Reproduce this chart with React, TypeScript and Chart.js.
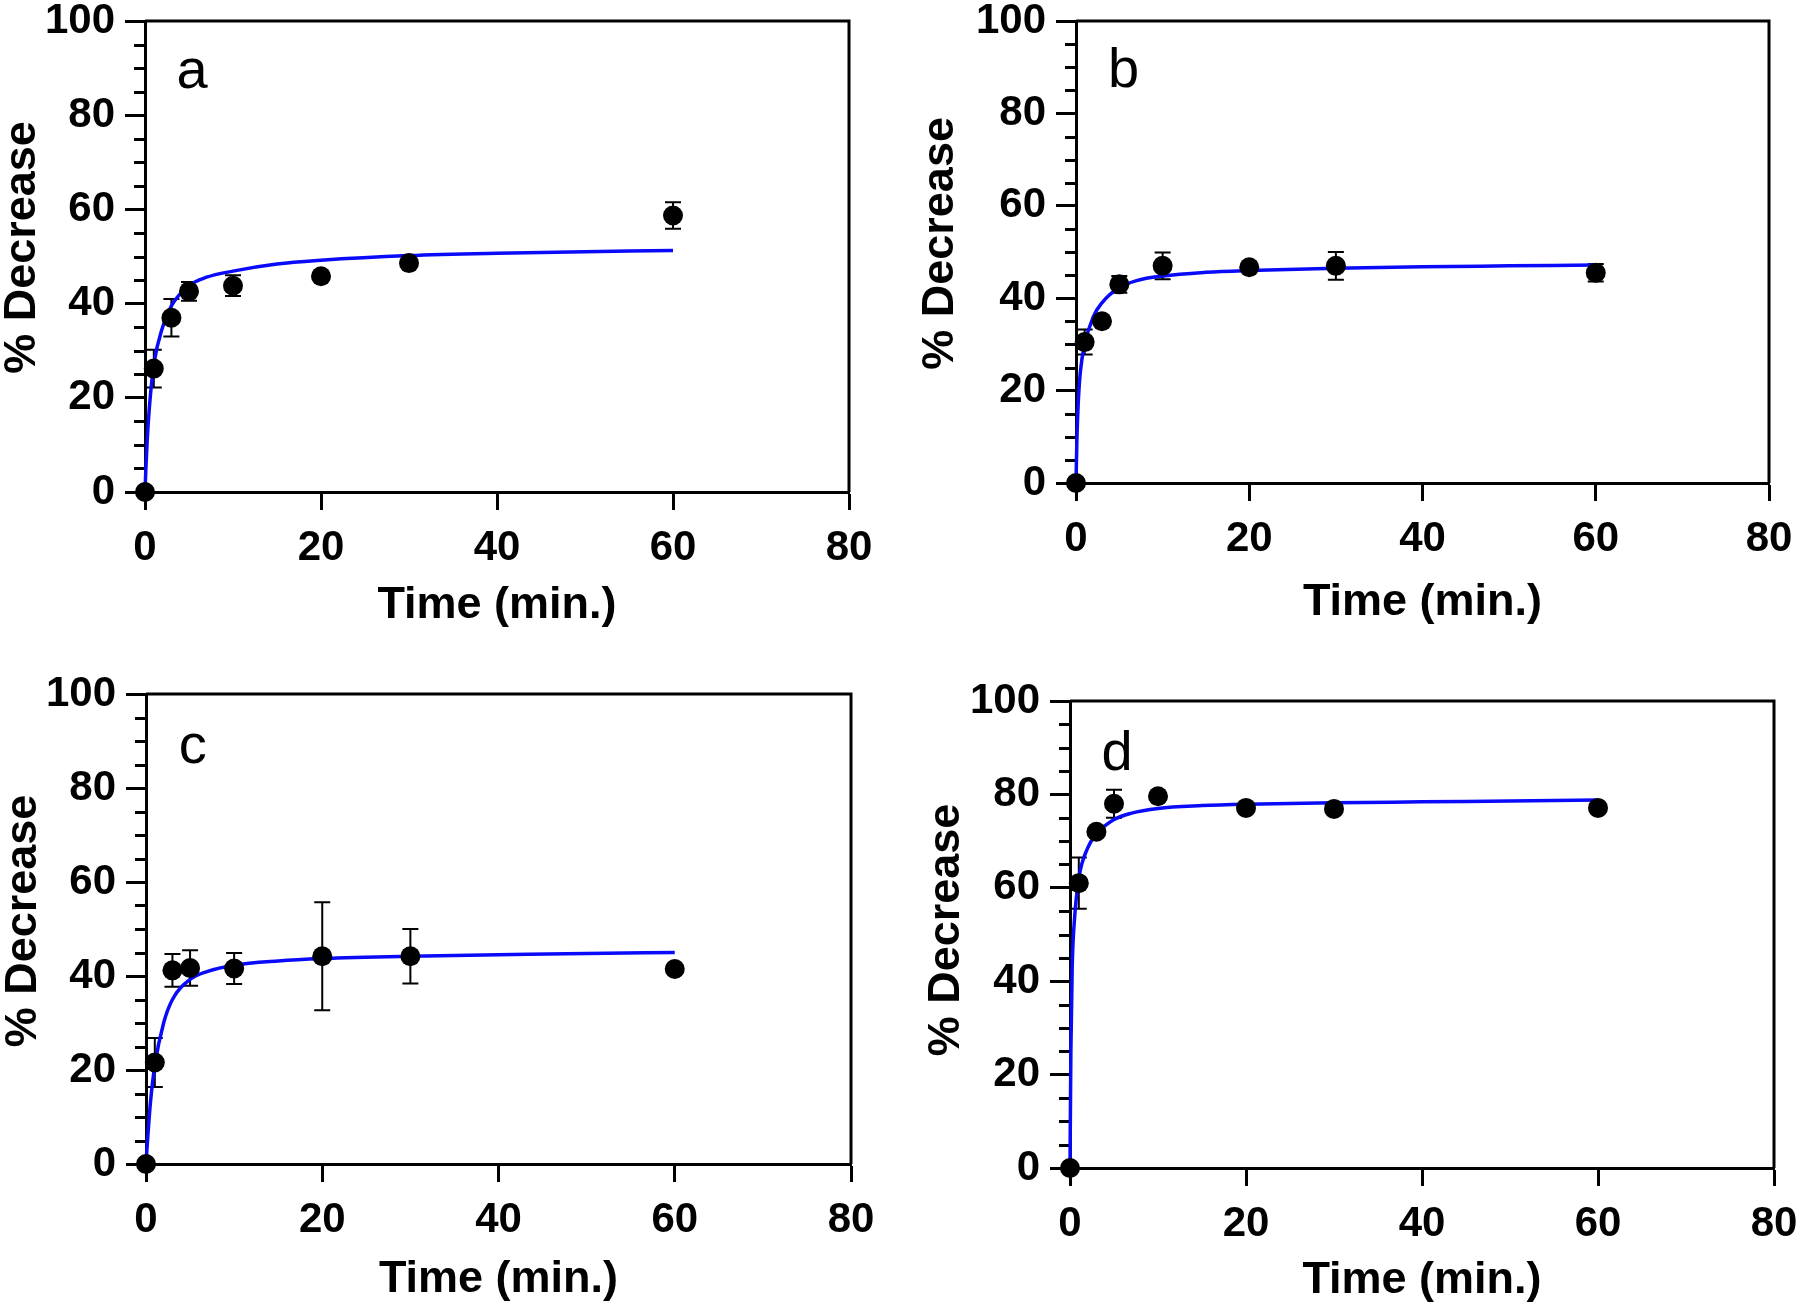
import React, { useEffect, useRef } from "react";
import { Chart, registerables } from "chart.js";

Chart.register(...registerables);

// ---------- data ----------
const timePoints = [0, 1, 3, 5, 10, 20, 30, 60];

const meanA = [0, 26.2, 37.0, 42.6, 43.8, 45.8, 48.6, 58.7];
const errA = [0, 4.0, 4.0, 2.0, 2.2, 0.8, 0.8, 2.8];

const meanB = [0, 30.5, 35.0, 43.0, 47.0, 46.7, 47.0, 45.5];
const errB = [0, 2.7, 0.8, 1.8, 2.9, 0.8, 3.0, 1.9];

const meanC = [0, 21.6, 41.2, 41.7, 41.6, 44.2, 44.2, 41.5];
const errC = [0, 5.2, 3.5, 3.8, 3.3, 11.5, 5.8, 0.8];

const meanD = [0, 61.0, 72.0, 78.0, 79.6, 77.1, 76.9, 77.1];
const errD = [0, 5.5, 0.8, 3.0, 0.8, 0.8, 0.8, 0.8];

// fitted curves
const curveX = [0, 0.1, 0.25, 0.5, 1, 2, 3, 5, 7, 10, 15, 20, 30, 40, 50, 60];
const fitA = [0, 5, 11, 18, 27, 35, 39.5, 43.8, 45.6, 46.9, 48.4, 49.2, 50.2, 50.7, 51.0, 51.3];
const fitB = [0, 9, 17, 24, 30, 36, 39, 42.3, 43.8, 44.8, 45.6, 46.0, 46.5, 46.8, 47.0, 47.2];
const fitC = [0, 3, 7, 13, 21, 30, 35, 39.3, 41, 42.3, 43.2, 43.7, 44.2, 44.5, 44.8, 45.0];
const fitD = [0, 25, 43, 53, 62, 68.5, 71.5, 74.6, 76, 77, 77.6, 77.9, 78.2, 78.4, 78.6, 78.8];

const yMinorTicks = [5, 10, 15, 25, 30, 35, 45, 50, 55, 65, 70, 75, 85, 90, 95];
const panelLetters = ["a", "b", "c", "d"];
const xTitle = "Time (min.)";
const yTitle = "% Decrease";

// ---------- layout (page px) ----------
type Layout = {
  L: number; T: number; R: number; B: number;
  yTitleOff: number; yTitleShift: number; xTitleOff: number;
  letterX: number; letterY: number;
};

const layouts: Layout[] = [
  { L: 145, T: 21, R: 849, B: 491.5, yTitleOff: 122, yTitleShift: -9, xTitleOff: 113.5, letterX: 5.35, letterY: 89 },
  { L: 1076, T: 20.5, R: 1769, B: 482.5, yTitleOff: 135, yTitleShift: -8.6, xTitleOff: 120, letterX: 5.5, letterY: 89 },
  { L: 145.5, T: 694, R: 850, B: 1164, yTitleOff: 122.5, yTitleShift: -8, xTitleOff: 115.5, letterX: 5.3, letterY: 88.5 },
  { L: 1070, T: 701, R: 1774, B: 1168, yTitleOff: 123, yTitleShift: -4.5, xTitleOff: 113, letterX: 5.35, letterY: 88.6 },
];

const PAD_L = 160;
const PAD_T = 40;
const PAD_R = 40;
const PAD_B = 165;

const FONT = "'Liberation Sans', Arial, Helvetica, sans-serif";
const BLUE = "rgb(10,10,250)";

type PanelProps = {
  idx: number;
  means: number[];
  errs: number[];
  fit: number[];
};

function Panel({ idx, means, errs, fit }: PanelProps) {
  const ref = useRef<HTMLCanvasElement | null>(null);
  const lay = layouts[idx];
  const left = lay.L - PAD_L;
  const top = lay.T - PAD_T;
  const width = Math.round(lay.R - lay.L + PAD_L + PAD_R);
  const height = Math.round(lay.B - lay.T + PAD_T + PAD_B);

  useEffect(() => {
    const canvas = ref.current;
    if (!canvas) return;

    const decor = {
      id: "decor" + idx,
      beforeDatasetsDraw(chart: any) {
        const { ctx, chartArea, scales } = chart;
        const x = scales.x;
        const y = scales.y;
        ctx.save();
        ctx.strokeStyle = "#000";
        ctx.lineWidth = 3;
        ctx.lineCap = "butt";
        // frame top + right
        ctx.beginPath();
        ctx.moveTo(chartArea.left, chartArea.top);
        ctx.lineTo(chartArea.right, chartArea.top);
        ctx.lineTo(chartArea.right, chartArea.bottom);
        ctx.stroke();
        // minor ticks
        ctx.beginPath();
        for (const v of yMinorTicks) {
          const py = Math.round(y.getPixelForValue(v)) + 0.5;
          ctx.moveTo(chartArea.left - 11, py);
          ctx.lineTo(chartArea.left, py);
        }
        ctx.stroke();
        // error bars
        ctx.lineWidth = 2;
        ctx.beginPath();
        timePoints.forEach((t, i) => {
          if (!errs[i]) return;
          const px = x.getPixelForValue(t);
          const hi = y.getPixelForValue(means[i] + errs[i]);
          const lo = y.getPixelForValue(means[i] - errs[i]);
          ctx.moveTo(px, hi);
          ctx.lineTo(px, lo);
          ctx.moveTo(px - 8, hi);
          ctx.lineTo(px + 8, hi);
          ctx.moveTo(px - 8, lo);
          ctx.lineTo(px + 8, lo);
        });
        ctx.stroke();
        ctx.restore();
      },
      afterDraw(chart: any) {
        const { ctx, chartArea, scales } = chart;
        ctx.save();
        ctx.fillStyle = "#000";
        // x title
        ctx.font = `bold 45px ${FONT}`;
        ctx.textAlign = "center";
        ctx.textBaseline = "middle";
        ctx.fillText(xTitle, (chartArea.left + chartArea.right) / 2, chartArea.bottom + lay.xTitleOff);
        // y title
        ctx.save();
        ctx.translate(chartArea.left - lay.yTitleOff, (chartArea.top + chartArea.bottom) / 2 + lay.yTitleShift);
        ctx.rotate(-Math.PI / 2);
        ctx.fillText(yTitle, 0, 0);
        ctx.restore();
        // panel letter
        ctx.font = `56px ${FONT}`;
        ctx.fillText(
          panelLetters[idx],
          scales.x.getPixelForValue(lay.letterX),
          scales.y.getPixelForValue(lay.letterY)
        );
        ctx.restore();
      },
    };

    const tickFont = { family: FONT, size: 42, weight: "bold" as const };

    const chart = new Chart(canvas, {
      type: "scatter",
      data: {
        datasets: [
          {
            type: "scatter",
            data: timePoints.map((t, i) => ({ x: t, y: means[i] })),
            pointRadius: 10,
            pointHoverRadius: 10,
            pointBackgroundColor: "#000",
            pointBorderColor: "#000",
            pointBorderWidth: 0,
            order: 0,
            clip: false,
          } as any,
          {
            type: "line",
            data: curveX.map((t, i) => ({ x: t, y: fit[i] })),
            borderColor: BLUE,
            borderWidth: 3.5,
            pointRadius: 0,
            cubicInterpolationMode: "monotone",
            fill: false,
            order: 1,
            clip: false,
          } as any,
        ],
      },
      options: {
        responsive: false,
        animation: false,
        devicePixelRatio: 1,
        layout: { padding: { top: PAD_T, right: PAD_R, left: 0, bottom: 0 } },
        plugins: { legend: { display: false }, tooltip: { enabled: false } },
        events: [],
        scales: {
          x: {
            type: "linear",
            min: 0,
            max: 80,
            ticks: { stepSize: 20, font: tickFont, color: "#000", padding: 13, maxRotation: 0 },
            grid: { drawOnChartArea: false, tickLength: 18, tickWidth: 3, tickColor: "#000" },
            border: { display: true, width: 3, color: "#000" },
            afterFit: (s: any) => {
              s.height = PAD_B;
            },
          },
          y: {
            type: "linear",
            min: 0,
            max: 100,
            ticks: { stepSize: 20, font: tickFont, color: "#000", padding: 10 },
            grid: { drawOnChartArea: false, tickLength: 20, tickWidth: 3, tickColor: "#000" },
            border: { display: true, width: 3, color: "#000" },
            afterFit: (s: any) => {
              s.width = PAD_L;
            },
          },
        },
      } as any,
      plugins: [decor],
    });

    return () => chart.destroy();
  }, [idx, means, errs, fit]);

  return (
    <canvas
      ref={ref}
      width={width}
      height={height}
      style={{ position: "absolute", left, top, width, height }}
    />
  );
}

export default function App() {
  return (
    <div
      style={{
        position: "absolute",
        left: 0,
        top: 0,
        width: 1800,
        height: 1308,
        background: "#fff",
        overflow: "hidden",
      }}
    >
      <Panel idx={0} means={meanA} errs={errA} fit={fitA} />
      <Panel idx={1} means={meanB} errs={errB} fit={fitB} />
      <Panel idx={2} means={meanC} errs={errC} fit={fitC} />
      <Panel idx={3} means={meanD} errs={errD} fit={fitD} />
    </div>
  );
}
